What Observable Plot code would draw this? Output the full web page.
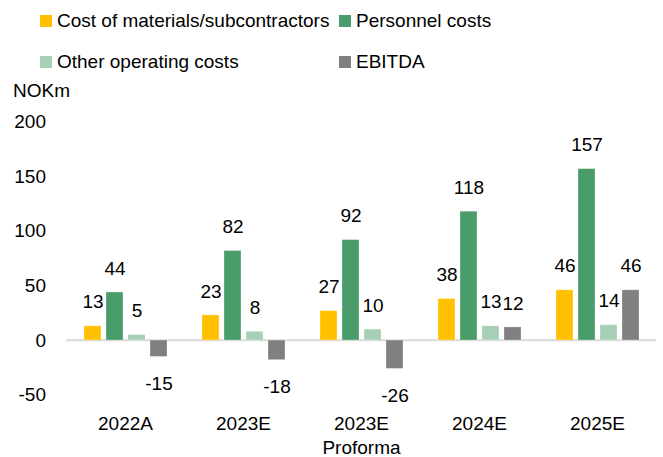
<!DOCTYPE html>
<html>
<head>
<meta charset="utf-8">
<script src="https://cdn.jsdelivr.net/npm/d3@7"></script>
<script src="https://cdn.jsdelivr.net/npm/@observablehq/plot@0.6"></script>
<style>
  body { margin: 0; background: #fff; }
  #wrap { position: relative; width: 663px; height: 457px; font-family: "Liberation Sans", Arial, sans-serif; color: #000; }
  .leg { position: absolute; font-size: 19px; line-height: 19px; white-space: nowrap; }
  .sw { position: absolute; width: 12px; height: 12px; }
  #chart { position: absolute; left: 0; top: 0; }
</style>
</head>
<body>
<div id="wrap">
  <div id="chart"></div>
</div>
<script>
const categories = ["2022A", "2023E", "2023E\nProforma", "2024E", "2025E"];
const series = ["Cost of materials/subcontractors", "Personnel costs", "Other operating costs", "EBITDA"];
const costMaterials = [13, 23, 27, 38, 46];
const personnel = [44, 82, 92, 118, 157];
const otherOpex = [5, 8, 10, 13, 14];
const ebitda = [-15, -18, -26, 12, 46];
const yTicks = [-50, 0, 50, 100, 150, 200];
const colors = ["#FFC000", "#4A9C6A", "#A5D0B6", "#808080"];
const unitLabel = "NOKm";

const valuesBySeries = [costMaterials, personnel, otherOpex, ebitda];
const data = [];
categories.forEach((c, i) => {
  series.forEach((s, j) => data.push({cat: c, series: s, value: valuesBySeries[j][i]}));
});

const font = "Liberation Sans, Arial, sans-serif";

const chart = Plot.plot({
  width: 663,
  height: 457,
  marginTop: 121.7,
  marginBottom: 62.4,
  marginLeft: 65,
  marginRight: 7,
  style: {fontFamily: font, fontSize: "19px", color: "#000", background: "transparent"},
  fx: {domain: categories, padding: 0},
  x: {domain: series, paddingInner: 0.24, paddingOuter: 0.8, axis: null},
  y: {domain: [-50, 200]},
  color: {domain: series, range: colors},
  marks: [
    Plot.ruleY([0], {stroke: "#D9D9D9", strokeWidth: 2, dy: -0.3}),
    Plot.barY(data, {fx: "cat", x: "series", y: "value", fill: "series", stroke: "#ffffff", strokeOpacity: 0.35, strokeWidth: 0.8}),
    Plot.text(data.filter(d => d.value >= 0), {fx: "cat", x: "series", y: "value", text: d => String(d.value), dy: -24, fontSize: 19, fill: "#000"}),
    Plot.text(data.filter(d => d.value < 0), {fx: "cat", x: "series", y: "value", text: d => String(d.value), dy: 27, fontSize: 19, fill: "#000"}),
    Plot.axisY(yTicks, {tickSize: 0, tickPadding: 20.5, fontSize: 19, label: null, tickFormat: d => String(d)}),
    Plot.axisFx({anchor: "bottom", tickSize: 0, tickPadding: 18, fontSize: 19, lineHeight: 1.27, label: null})
  ]
});
document.getElementById("chart").appendChild(chart);

// Legend (HTML)
const wrap = document.getElementById("wrap");
const legendItems = [
  {i: 0, left: 40, top: 11},
  {i: 1, left: 339, top: 11},
  {i: 2, left: 40, top: 52},
  {i: 3, left: 339, top: 52}
];
legendItems.forEach(({i, left, top}) => {
  const sw = document.createElement("div");
  sw.className = "sw";
  sw.style.left = left + "px";
  sw.style.top = (top + 4) + "px";
  sw.style.background = colors[i];
  wrap.appendChild(sw);
  const t = document.createElement("div");
  t.className = "leg";
  t.style.left = (left + 17) + "px";
  t.style.top = top + "px";
  t.textContent = series[i];
  wrap.appendChild(t);
});
const u = document.createElement("div");
u.className = "leg";
u.style.left = "13px";
u.style.top = "81px";
u.textContent = unitLabel;
wrap.appendChild(u);
</script>
</body>
</html>
